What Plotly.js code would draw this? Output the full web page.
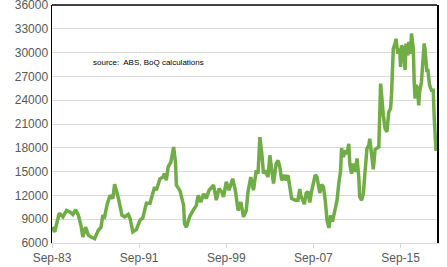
<!DOCTYPE html>
<html>
<head>
<meta charset="utf-8">
<script src="https://cdn.plot.ly/plotly-3.0.1.min.js"></script>
<style>html,body{margin:0;padding:0;background:#fff;}#chart{width:447px;height:267px;}</style>
</head>
<body>
<div id="chart"></div>
<script>
const dates = [
"1983-09","1983-12","1984-05","1984-09","1985-01","1985-05","1985-08","1985-11","1986-02","1986-05",
"1986-07","1986-10","1987-01","1987-04","1987-08","1987-12","1988-03","1988-05","1988-07","1988-10",
"1989-01","1989-04","1989-06","1989-10","1990-02","1990-05","1990-09","1990-11","1991-02","1991-06",
"1991-10","1992-01","1992-05","1992-09","1993-02","1993-04","1993-08","1993-11","1994-01","1994-03",
"1994-05","1994-08","1994-11","1995-01","1995-02","1995-06","1995-10","1995-11","1996-01","1996-05",
"1996-09","1996-12","1997-02","1997-05","1997-08","1997-11","1998-02","1998-07","1998-10","1999-01",
"1999-04","1999-06","1999-09","1999-12","2000-04","2000-07","2000-10","2001-01","2001-04","2001-07",
"2001-09","2001-12","2002-03","2002-06","2002-08","2002-10","2002-12","2003-02","2003-04","2003-07",
"2003-09","2003-11","2004-01","2004-04","2004-06","2004-08","2004-10","2005-01","2005-03","2005-05",
"2005-07","2005-09","2006-01","2006-04","2006-06","2006-07","2006-11","2007-01","2007-03","2007-05",
"2007-07","2007-11","2008-01","2008-04","2008-06","2008-08","2008-10","2008-12","2009-02","2009-04",
"2009-06","2009-09","2009-11","2010-01","2010-03","2010-04","2010-06","2010-08","2010-10","2010-12",
"2011-01","2011-03","2011-05","2011-07","2011-09","2011-11","2011-12","2012-02","2012-04","2012-06",
"2012-08","2012-10","2012-11","2013-01","2013-03","2013-05","2013-07","2013-09","2013-11","2013-12",
"2014-02","2014-04","2014-06","2014-08","2014-10","2014-11","2015-01","2015-03","2015-04","2015-06",
"2015-08","2015-09","2015-10","2015-12","2016-02","2016-03","2016-05","2016-06","2016-08","2016-09",
"2016-11","2016-12","2017-01","2017-02","2017-04","2017-05","2017-06","2017-08","2017-09","2017-11",
"2017-12","2018-02","2018-03","2018-05","2018-07","2018-09","2018-10","2018-12"
];
const values = [
8000,7400,9750,9300,10100,9900,9600,10200,9500,8200,
6750,8000,7000,6750,6550,7600,8000,9500,9300,11000,
12000,11600,13400,11700,9500,9300,9600,9100,7400,7700,
8900,9150,11000,11000,13050,12650,14100,14300,14750,13900,
15600,16200,18100,16200,13300,12600,10750,8450,8000,9400,
10200,10750,12000,11150,12200,11600,12650,13300,11400,12850,
12450,11800,13700,12650,14100,12650,10100,11150,9300,10100,
12500,14300,12650,15150,14750,19350,17450,14750,15150,14300,
17050,15400,13500,16000,16400,15600,13900,14550,13900,14550,
13300,11600,11400,11400,12800,12000,10900,12300,12500,11100,
12500,14600,14300,12300,13350,13100,11400,8850,7900,9500,
8700,10500,11400,13600,15150,17950,16850,17450,17250,18500,
16000,14750,16000,14950,16650,14300,11800,11400,12200,15150,
17900,18300,19150,17250,15300,17800,17900,18100,26100,24200,
22100,20400,20000,22500,22950,24600,30500,31150,31750,29850,
30500,28200,30900,30500,27800,31150,29650,31350,29850,32400,
30500,26300,24200,25900,25450,23350,25050,26300,27550,31150,
30300,27550,27950,25900,25250,25250,22100,17600
];
const yTicks = [6000,9000,12000,15000,18000,21000,24000,27000,30000,33000,36000];
const sourceNote = "source:  ABS, BoQ calculations";

const trace = {
  x: dates, y: values, type: "scatter", mode: "lines",
  line: {color: "#70ad47", width: 3.5},
  hoverinfo: "skip"
};
const layout = {
  width: 447, height: 267,
  margin: {l: 52.3, r: 10.3, t: 4.5, b: 24.3},
  paper_bgcolor: "#fff", plot_bgcolor: "#fff",
  showlegend: false,
  font: {family: "Arial, Liberation Sans, sans-serif", size: 12, color: "#595959"},
  xaxis: {
    type: "date",
    range: ["1983-09-01", "2019-01-05"],
    tick0: "1983-09-01", dtick: "M96",
    tickformat: "%b-%y",
    ticks: "outside", ticklen: 4, tickcolor: "#d9d9d9",
    showgrid: false, zeroline: false,
    showline: true, linecolor: "#d9d9d9", linewidth: 1,
    tickfont: {size: 12, color: "#595959"}
  },
  yaxis: {
    range: [6000, 36000],
    tickvals: yTicks,
    ticktext: yTicks.map(String),
    ticklabeloverflow: "allow",
    ticks: "", showgrid: true, gridcolor: "#d9d9d9", gridwidth: 1,
    zeroline: false,
    showline: true, linecolor: "#000", linewidth: 1.5, mirror: true,
    tickfont: {size: 12, color: "#595959"}
  },
  shapes: [{type: "line", xref: "paper", yref: "paper", x0: 0, x1: 1, y0: 1, y1: 1,
            line: {color: "#000", width: 1.5}}],
  annotations: [{
    text: sourceNote, xref: "paper", yref: "paper", x: 0.1, y: 0.759,
    xanchor: "left", yanchor: "middle", showarrow: false,
    font: {family: "Arial, Liberation Sans, sans-serif", size: 8, color: "#000"}
  }]
};
Plotly.newPlot("chart", [trace], layout, {staticPlot: true, displayModeBar: false});
</script>
</body>
</html>
